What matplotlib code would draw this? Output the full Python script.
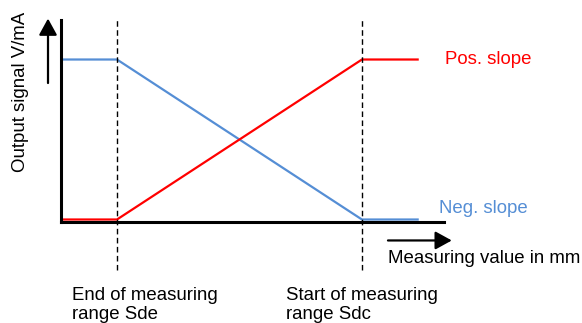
import matplotlib.pyplot as plt

plt.rcParams['font.family'] = ['Liberation Sans', 'DejaVu Sans']

# positions along the measuring axis (1 unit ~ distance origin -> Sde)
sde = 1.0
sdc = 5.375
x_end = 6.39

pos_x = [0, sde, sdc, x_end]
pos_y = [0, 0, 1, 1]
neg_x = [0, sde, sdc, x_end]
neg_y = [1, 1, 0, 0]

red = '#ff0000'
blue = '#558ed5'
fs = 13.4

fig = plt.figure(figsize=(5.82, 3.23), dpi=100)
ax = fig.add_axes([0.1048, 0.3127, 0.658, 0.6254])
ax.set_xlim(0, 6.84)
ax.set_ylim(-0.0156, 1.247)
for s in ['top', 'right']:
    ax.spines[s].set_visible(False)
for s in ['left', 'bottom']:
    ax.spines[s].set_linewidth(2.2)
ax.set_xticks([])
ax.set_yticks([])

ax.plot(neg_x, neg_y, color=blue, lw=1.6, solid_capstyle='butt')
ax.plot(pos_x, pos_y, color=red, lw=1.6, solid_capstyle='butt')

# dashed range limits, reaching below the axis
for xv in [sde, sdc]:
    ax.plot([xv, xv], [-0.316, 1.247], color='black', lw=1.0,
            dashes=(4, 2.5), clip_on=False)

# axis arrows
ap = dict(arrowstyle='-|>,head_length=1.0,head_width=0.55', lw=1.6,
          color='black', mutation_scale=10, shrinkA=0, shrinkB=0)
ax.annotate('', xy=(-0.232, 1.256), xytext=(-0.232, 0.853),
            arrowprops=ap, annotation_clip=False)
ax.annotate('', xy=(6.98, -0.131), xytext=(5.84, -0.131),
            arrowprops=ap, annotation_clip=False)

ax.text(-0.732, 0.797, 'Output signal V/mA', rotation=90, ha='center',
        va='center', fontsize=fs, clip_on=False)
ax.text(6.857, 1.003, 'Pos. slope', color=red, ha='left', va='center',
        fontsize=fs, clip_on=False)
ax.text(6.75, 0.066, 'Neg. slope', color=blue, ha='left', va='center',
        fontsize=fs, clip_on=False)
ax.text(5.84, -0.241, 'Measuring value in mm', ha='left', va='center',
        fontsize=fs, clip_on=False)
ax.text(0.196, -0.425, 'End of measuring\nrange Sde', ha='left', va='top',
        fontsize=fs, linespacing=1.12, clip_on=False)
ax.text(4.018, -0.425, 'Start of measuring\nrange Sdc', ha='left', va='top',
        fontsize=fs, linespacing=1.12, clip_on=False)

fig.savefig('out.png', dpi=100)
